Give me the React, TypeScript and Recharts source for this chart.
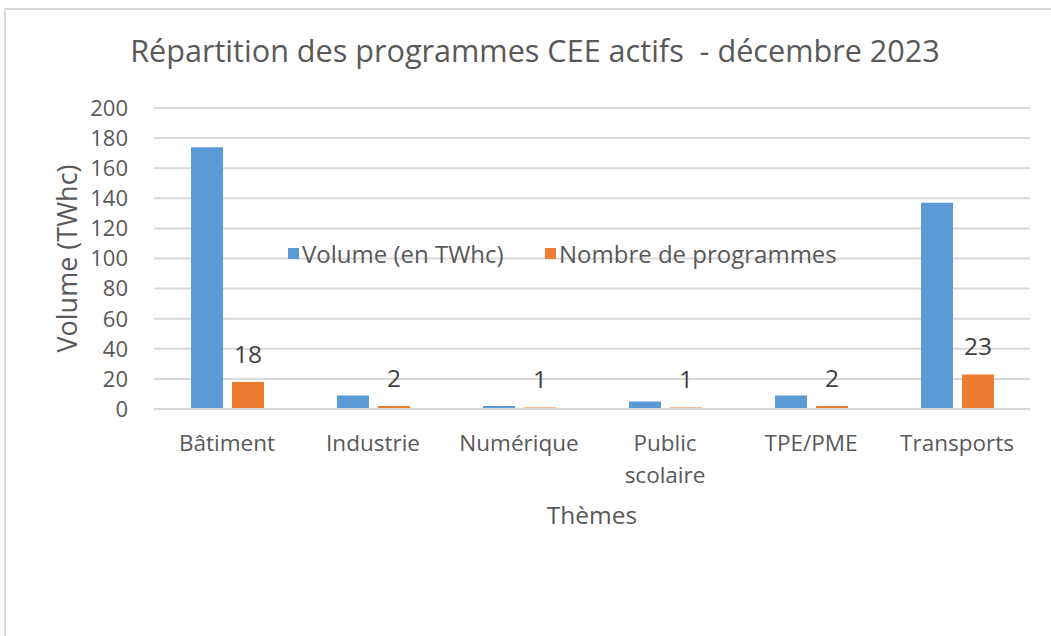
import { BarChart, Bar, XAxis, YAxis, CartesianGrid, LabelList } from 'recharts';

const themes = ['Bâtiment', 'Industrie', 'Numérique', 'Public scolaire', 'TPE/PME', 'Transports'];
const volumes = [174, 9, 2, 5, 9, 137];
const programmes = [18, 2, 1, 1, 2, 23];
const yTicks = [0, 20, 40, 60, 80, 100, 120, 140, 160, 180, 200];

const BLUE = '#5b9bd5';
const ORANGE = '#ed7d31';
const TEXT = '#595959';
const FONT = '"Open Sans", sans-serif';

const data = themes.map((t, i) => ({ theme: t, volume: volumes[i], programmes: programmes[i] }));

// long labels go on two lines, like Excel does
function ThemeTick(props: any) {
    const { x, y, payload } = props;
    const lines = String(payload.value).split(' ');
    return (
        <text x={x} y={y} textAnchor="middle" fill={TEXT} fontSize={22.5} fontFamily={FONT}>
            {lines.map((l, i) => (
                <tspan key={i} x={x} dy={i === 0 ? '0.71em' : 32}>{l}</tspan>
            ))}
        </text>
    );
}

function LegendBox() {
    const items = [
        { label: 'Volume (en TWhc)', color: BLUE, left: 288 },
        { label: 'Nombre de programmes', color: ORANGE, left: 545 },
    ];
    return (
        <>
            {items.map((it) => (
                <div
                    key={it.label}
                    style={{
                        position: 'absolute', left: it.left, top: 236, height: 34,
                        display: 'flex', alignItems: 'center', whiteSpace: 'nowrap',
                        fontFamily: FONT, fontSize: 24, color: TEXT,
                    }}
                >
                    <span style={{ width: 11, height: 11, background: it.color, display: 'inline-block', marginRight: 3 }} />
                    <span>{it.label}</span>
                </div>
            ))}
        </>
    );
}

export default function App() {
    return (
        <div style={{ position: 'absolute', left: 0, top: 0, width: 1051, height: 636, background: '#fff', overflow: 'hidden' }}>
            <div style={{ position: 'absolute', left: 4, top: 8, width: 1060, height: 640, border: '2px solid #d9d9d9', boxSizing: 'border-box' }} />
            <div style={{ position: 'absolute', left: 0, top: 29, width: 1070, textAlign: 'center', fontFamily: FONT, fontSize: 30.6, color: TEXT, whiteSpace: 'nowrap' }}>
                Répartition des programmes CEE actifs &nbsp;- décembre 2023
            </div>
            <div style={{ position: 'absolute', left: 0, top: 0 }}>
                <BarChart
                    width={1051}
                    height={636}
                    data={data}
                    margin={{ top: 108, right: 21, bottom: 0, left: 0 }}
                    barCategoryGap="25%"
                    barGap={9}
                >
                    <CartesianGrid vertical={false} stroke="#d9d9d9" strokeWidth={2} />
                    <XAxis
                        dataKey="theme"
                        height={227}
                        axisLine={{ stroke: '#d9d9d9', strokeWidth: 2 }}
                        tickLine={false}
                        tickMargin={20}
                        interval={0}
                        tick={<ThemeTick />}
                        label={{ value: 'Thèmes', position: 'insideTop', offset: 98, fill: TEXT, fontSize: 24.5, fontFamily: FONT }}
                    />
                    <YAxis
                        width={154}
                        domain={[0, 200]}
                        ticks={yTicks}
                        interval={0}
                        axisLine={false}
                        tickLine={false}
                        tickSize={0}
                        tickMargin={26}
                        tick={{ fill: TEXT, fontSize: 22, fontFamily: FONT }}
                        label={{ value: 'Volume (TWhc)', angle: -90, position: 'insideLeft', offset: 67, fill: TEXT, fontSize: 27, fontFamily: FONT, style: { textAnchor: 'middle' } }}
                    />
                    <Bar dataKey="volume" fill={BLUE} barSize={32} isAnimationActive={false} />
                    <Bar dataKey="programmes" fill={ORANGE} barSize={32} isAnimationActive={false}>
                        <LabelList dataKey="programmes" position="top" offset={19} fill="#404040" fontSize={24.5} fontFamily={FONT} />
                    </Bar>
                </BarChart>
            </div>
            <LegendBox />
        </div>
    );
}
